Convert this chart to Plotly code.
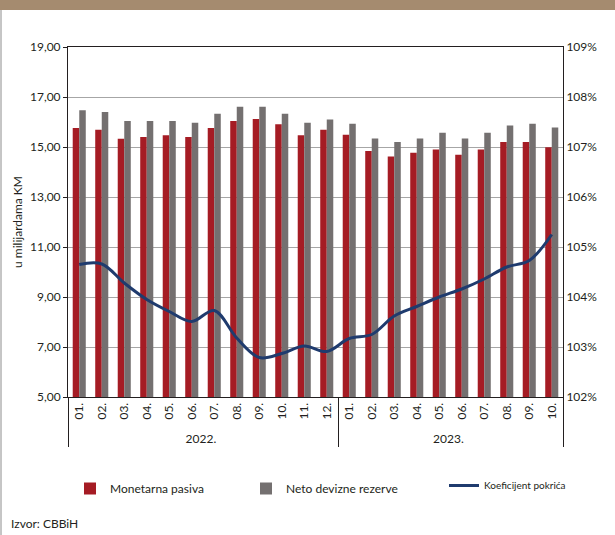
import plotly.graph_objects as go

years = ["2022."] * 12 + ["2023."] * 10
months = ["01.", "02.", "03.", "04.", "05.", "06.", "07.", "08.", "09.", "10.", "11.", "12.",
          "01.", "02.", "03.", "04.", "05.", "06.", "07.", "08.", "09.", "10."]

monetarna_pasiva = [15.76, 15.69, 15.33, 15.40, 15.47, 15.40, 15.76, 16.04, 16.12, 15.91, 15.47, 15.69,
                    15.49, 14.84, 14.62, 14.77, 14.90, 14.69, 14.90, 15.20, 15.20, 14.99]
neto_devizne_rezerve = [16.47, 16.40, 16.04, 16.04, 16.04, 15.97, 16.33, 16.61, 16.61, 16.33, 15.97, 16.10,
                        15.93, 15.34, 15.20, 15.34, 15.57, 15.34, 15.57, 15.86, 15.93, 15.78]
koeficijent_pokrica = [104.65, 104.66, 104.28, 103.95, 103.71, 103.51, 103.73, 103.18, 102.79, 102.87, 103.02, 102.91,
                       103.17, 103.25, 103.62, 103.81, 104.00, 104.16, 104.36, 104.60, 104.73, 105.25]

FONT = "Lato, 'Open Sans', sans-serif"
RED = "#A51C24"
GREY = "#747070"
NAVY = "#1F3B6E"
TXT = "#231F20"

x = [years, months]

fig = go.Figure()
fig.add_trace(go.Bar(x=x, y=monetarna_pasiva, name="Monetarna pasiva",
                     marker=dict(color=RED, line=dict(width=0)), legend="legend"))
fig.add_trace(go.Bar(x=x, y=neto_devizne_rezerve, name="Neto devizne rezerve",
                     marker=dict(color=GREY, line=dict(width=0)), legend="legend"))
fig.add_trace(go.Scatter(x=x, y=koeficijent_pokrica, name="Koeficijent pokrića",
                         mode="lines", yaxis="y2", legend="legend2",
                         line=dict(color=NAVY, width=3, shape="spline", smoothing=1.0)))

W, H = 615, 535
L, R, T, B = 68, 52, 47, 138
pw, ph = W - L - R, H - T - B

def px_x(p):
    return (p - L) / pw

def px_y(p):
    return (H - B - p) / ph

fig.update_layout(
    width=W, height=H,
    margin=dict(l=L, r=R, t=T, b=B),
    paper_bgcolor="white", plot_bgcolor="white",
    font=dict(family=FONT, size=12, color=TXT),
    separators=",.",
    barmode="group", bargap=0.42, bargroupgap=0,
    showlegend=True,
    legend=dict(orientation="h", x=px_x(70), y=px_y(474), xanchor="left", yanchor="top",
                entrywidth=131, entrywidthmode="pixels",
                font=dict(family=FONT, size=12, color=TXT),
                bgcolor="rgba(0,0,0,0)", itemwidth=30, traceorder="normal"),
    legend2=dict(orientation="h", x=px_x(444), y=px_y(471), xanchor="left", yanchor="top",
                 font=dict(family=FONT, size=10, color=TXT),
                 bgcolor="rgba(0,0,0,0)", itemwidth=30),
    xaxis=dict(type="multicategory", showline=True, linecolor=TXT, linewidth=1,
               mirror=True, ticks="", tickangle=-90,
               tickfont=dict(family=FONT, size=12, color=TXT),
               showdividers=True, dividercolor=TXT, dividerwidth=1,
               showgrid=False),
    yaxis=dict(range=[5, 19], dtick=2, tick0=5, tickformat=".2f",
               showgrid=True, gridcolor="#A6A6A6", gridwidth=1,
               showline=True, linecolor=TXT, linewidth=1,
               ticks="outside", ticklen=4, tickcolor=TXT,
               tickfont=dict(family=FONT, size=12, color=TXT),
               title=dict(text="u milijardama KM", font=dict(family=FONT, size=12, color=TXT),
                          standoff=4),
               zeroline=False),
    yaxis2=dict(range=[102, 109], dtick=1, tick0=102, overlaying="y", side="right",
                ticksuffix="%", tickformat="d", showgrid=False,
                showline=True, linecolor=TXT, linewidth=1,
                ticks="",
                tickfont=dict(family=FONT, size=12, color=TXT),
                zeroline=False),
    shapes=[
        dict(type="rect", xref="paper", yref="paper", x0=px_x(0), x1=px_x(W), y0=px_y(10), y1=px_y(0),
             fillcolor="#A58B6F", line=dict(width=0), layer="above"),
        dict(type="line", xref="paper", yref="paper", x0=px_x(1), x1=px_x(1), y0=px_y(10), y1=px_y(H),
             line=dict(color="#8C8C8C", width=1)),
    ],
    annotations=[
        dict(text="Izvor: CBBiH", xref="paper", yref="paper", x=px_x(9), y=px_y(523),
             xanchor="left", yanchor="middle", showarrow=False,
             font=dict(family=FONT, size=12, color=TXT)),
    ],
)

fig.write_html("out.html", config={"displayModeBar": False},
               post_script="document.body.style.margin='0';document.body.style.overflow='hidden';")
